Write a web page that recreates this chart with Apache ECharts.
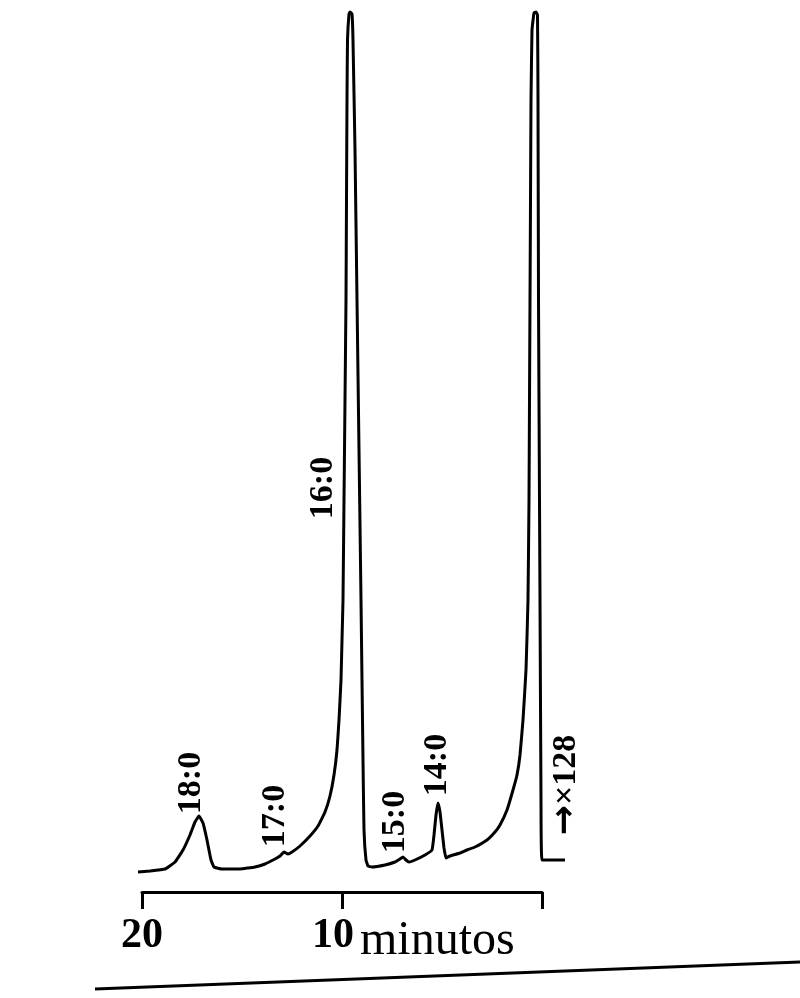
<!DOCTYPE html>
<html>
<head>
<meta charset="utf-8">
<script src="https://cdn.jsdelivr.net/npm/echarts@6/dist/echarts.min.js"></script>
<style>
  html, body { margin: 0; padding: 0; background: #ffffff; }
  #chart { width: 800px; height: 998px; }
</style>
</head>
<body>
<div id="chart"></div>
<script>
// Retention time in minutes (time runs from right = 0 to left = 20)
var times = [20.2, 19.6, 18.85, 18.35, 17.95, 17.6, 17.35, 17.15, 16.95, 16.75, 16.55, 16.4, 16.0, 15.1,
  14.35, 13.85, 13.35, 13.1, 12.9, 12.7, 12.5, 12.1, 11.6, 11.2, 10.85, 10.6, 10.4, 10.25, 10.15, 10.05,
  10.0, 9.95, 9.9, 9.85, 9.8, 9.775, 9.75, 9.725, 9.65, 9.6, 9.5, 9.45, 9.35, 9.25, 9.15, 9.05, 8.95,
  8.9, 8.8, 8.7, 8.5, 7.85, 7.35, 7.1, 6.95, 6.8, 6.65, 6.35, 5.85, 5.5, 5.4, 5.3, 5.2, 5.1, 5.0, 4.9,
  4.8, 4.6, 4.1, 3.75, 3.35, 2.75, 2.35, 2.1, 1.75, 1.45, 1.25, 1.1, 0.95, 0.8, 0.7, 0.65, 0.625, 0.6,
  0.575, 0.55, 0.5, 0.4, 0.3, 0.225, 0.2, 0.175, 0.125, 0.1, 0.05, 0.0, -1.15];
// Detector response (arbitrary units, chart divisions)
var signal = [20, 21, 23, 30, 42, 57, 70, 76, 69, 52, 32, 25, 23, 23,
  25, 28, 33, 36, 40, 38, 40, 46, 56, 66, 80, 96, 117, 142, 172, 212,
  252, 292, 392, 492, 592, 692, 792, 852, 878, 880, 878, 852, 742, 592, 442, 292, 132,
  62, 32, 26, 25, 27, 30, 33, 35, 32, 30, 32, 37, 42, 57, 77, 89, 80, 62, 44,
  34, 36, 39, 42, 45, 52, 60, 67, 82, 102, 117, 137, 172, 222, 292, 392, 492, 592,
  692, 792, 862, 879, 880, 877, 792, 592, 392, 292, 92, 32, 32];

// Peak annotations
var peakNames = ['18:0', '17:0', '16:0', '15:0', '14:0', '\u2192\u00d7128'];
var peakTimes = [17.55, 13.35, 10.95, 7.35, 5.25, -1.2];
var peakLabelLevels = [109, 76, 404, 70, 127, 107];

// Axis tick labels
var tickValues = [20, 10, 0];
var tickLabels = ['20', '10', ''];
var axisUnit = 'minutos';

// time range covered by the recorder trace
var traceStart = -1.15, traceEnd = 20.2;

var lineData = times.map(function (t, i) { return [t, signal[i]]; });
var labelData = peakNames.map(function (n, i) { return { name: n, value: [peakTimes[i], peakLabelLevels[i]] }; });

var labelFont = "'Liberation Serif', 'DejaVu Serif', serif";

var chart = echarts.init(document.getElementById('chart'), null, { renderer: 'canvas' });
chart.setOption({
  backgroundColor: '#ffffff',
  animation: false,
  title: {
    text: axisUnit,
    left: 355,
    top: 912,
    textStyle: { fontFamily: labelFont, fontSize: 48, fontWeight: 'normal', color: '#000' }
  },
  grid: [
    // plotting area for the trace (same scale as the visible axis: 20 px per minute)
    { left: 138, right: 235, top: 12, bottom: 106 },
    // visible time axis 20 .. 0 minutes
    { left: 142, right: 258, top: 12, bottom: 106 }
  ],
  xAxis: [
    {
      gridIndex: 0, type: 'value', min: traceStart, max: traceEnd, inverse: true, show: false
    },
    {
      gridIndex: 1,
      type: 'value',
      min: 0,
      max: 20,
      interval: 10,
      inverse: true,
      splitLine: { show: false },
      axisLine: { show: true, lineStyle: { color: '#000', width: 3 } },
      axisTick: { show: true, length: 17, lineStyle: { color: '#000', width: 3 } },
      axisLabel: {
        margin: 23,
        color: '#000',
        fontFamily: labelFont,
        fontSize: 42,
        fontWeight: 'bold',
        formatter: function (v) {
          var k = tickValues.indexOf(v);
          if (k < 0 || !tickLabels[k]) { return ''; }
          return v === 10 ? '{s|' + tickLabels[k] + '}' : '{n|' + tickLabels[k] + '}';
        },
        rich: {
          n: { fontFamily: labelFont, fontSize: 42, fontWeight: 'bold', color: '#000' },
          s: { fontFamily: labelFont, fontSize: 42, fontWeight: 'bold', color: '#000', padding: [0, 18, 0, 0] }
        }
      }
    }
  ],
  yAxis: [
    { gridIndex: 0, type: 'value', min: 0, max: 880, show: false },
    { gridIndex: 1, type: 'value', min: 0, max: 880, show: false }
  ],
  series: [
    {
      type: 'line',
      xAxisIndex: 0,
      yAxisIndex: 0,
      data: lineData,
      showSymbol: false,
      clip: false,
      smooth: 0.1,
      lineStyle: { color: '#000', width: 3 }
    },
    {
      type: 'scatter',
      xAxisIndex: 0,
      yAxisIndex: 0,
      data: labelData,
      clip: false,
      symbolSize: 0,
      itemStyle: { color: '#000', opacity: 1 },
      label: {
        show: true,
        position: 'inside',
        rotate: 90,
        formatter: function (p) {
          var n = p.name;
          if (n.charAt(0) === '\u2192') { return '{arr|\u2192}{t|' + n.slice(1) + '}'; }
          return '{t|' + n + '}';
        },
        color: '#000',
        textBorderWidth: 0,
        rich: {
          t: { fontFamily: labelFont, fontWeight: 'bold', fontSize: 34, color: '#000' },
          arr: { fontFamily: "'DejaVu Sans', sans-serif", fontWeight: 'bold', fontSize: 36, color: '#000' }
        }
      }
    }
  ],
  graphic: [
    { type: 'line', shape: { x1: 95, y1: 989, x2: 800, y2: 962 }, style: { stroke: '#000', lineWidth: 3 } }
  ]
});
</script>
</body>
</html>
